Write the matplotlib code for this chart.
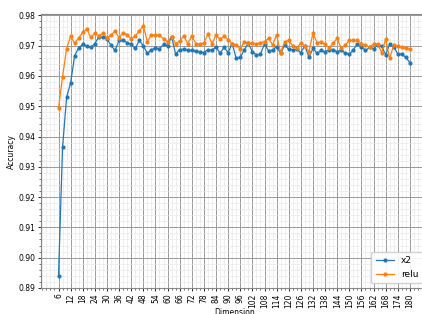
import matplotlib
matplotlib.use('Agg')
import matplotlib.pyplot as plt
from matplotlib.ticker import MultipleLocator

dims = list(range(6, 181, 2))

x2Acc = [0.8940, 0.9364, 0.9529, 0.9577, 0.9667, 0.9693, 0.9704, 0.9699, 0.9694, 0.9707,
         0.9729, 0.9728, 0.9722, 0.9701, 0.9684, 0.9717, 0.9717, 0.9710, 0.9704, 0.9691,
         0.9717, 0.9699, 0.9675, 0.9686, 0.9693, 0.9690, 0.9704, 0.9700, 0.9730, 0.9672,
         0.9687, 0.9688, 0.9685, 0.9684, 0.9683, 0.9680, 0.9677, 0.9687, 0.9685, 0.9696,
         0.9675, 0.9694, 0.9677, 0.9707, 0.9658, 0.9661, 0.9686, 0.9708, 0.9680, 0.9669,
         0.9672, 0.9706, 0.9682, 0.9686, 0.9697, 0.9675, 0.9702, 0.9688, 0.9686, 0.9688,
         0.9677, 0.9700, 0.9661, 0.9691, 0.9675, 0.9684, 0.9680, 0.9686, 0.9686, 0.9680,
         0.9686, 0.9675, 0.9672, 0.9686, 0.9706, 0.9697, 0.9684, 0.9694, 0.9690, 0.9702,
         0.9698, 0.9670, 0.9706, 0.9695, 0.9673, 0.9672, 0.9661, 0.9644]

reluAcc = [0.9493, 0.9597, 0.9690, 0.9731, 0.9708, 0.9725, 0.9744, 0.9755, 0.9727, 0.9741,
           0.9732, 0.9741, 0.9726, 0.9734, 0.9749, 0.9725, 0.9743, 0.9736, 0.9722, 0.9732,
           0.9748, 0.9766, 0.9713, 0.9736, 0.9734, 0.9734, 0.9723, 0.9713, 0.9730, 0.9707,
           0.9715, 0.9732, 0.9707, 0.9732, 0.9707, 0.9705, 0.9709, 0.9738, 0.9707, 0.9734,
           0.9721, 0.9731, 0.9719, 0.9707, 0.9702, 0.9689, 0.9713, 0.9708, 0.9708, 0.9706,
           0.9710, 0.9713, 0.9724, 0.9702, 0.9735, 0.9677, 0.9713, 0.9717, 0.9699, 0.9693,
           0.9708, 0.9699, 0.9680, 0.9741, 0.9710, 0.9713, 0.9704, 0.9693, 0.9708, 0.9724,
           0.9691, 0.9702, 0.9717, 0.9717, 0.9717, 0.9706, 0.9702, 0.9694, 0.9706, 0.9706,
           0.9677, 0.9721, 0.9658, 0.9702, 0.9699, 0.9694, 0.9691, 0.9690]

xticks = list(range(6, 181, 6))
yticks = [0.89, 0.90, 0.91, 0.92, 0.93, 0.94, 0.95, 0.96, 0.97, 0.98]

fig = plt.figure(figsize=(4.22, 3.14), dpi=100)
# axes run a little past the right edge, like the cropped original
ax = fig.add_axes([0.097, 0.083, 0.916, 0.871])

ax.plot(dims, x2Acc, '.-', color='#1f77b4', lw=0.9, ms=4, label='x2')
ax.plot(dims, reluAcc, '.-', color='#ff7f0e', lw=0.9, ms=4, label='relu')

ax.set_ylim(0.89, 0.9803)
ax.set_xlim(-2.7, 188.7)
ax.set_xticks(xticks)
ax.set_yticks(yticks)
ax.set_yticklabels(['%.2f' % v for v in yticks])
ax.xaxis.set_minor_locator(MultipleLocator(2))
ax.yaxis.set_minor_locator(MultipleLocator(0.002))
ax.tick_params(axis='x', labelrotation=90)
ax.tick_params(labelsize=5.5, length=2.5, width=0.6, pad=1.5)
ax.tick_params(which='minor', length=1.5, width=0.4)

ax.grid(which='major', color='#999999', lw=0.7)
ax.grid(which='minor', color='#e4e4e4', lw=0.4)
ax.set_axisbelow(True)

ax.set_xlabel('Dimension', fontsize=5.5, labelpad=0)
ax.set_ylabel('Accuracy', fontsize=5.5, labelpad=2)
for s in ax.spines.values():
    s.set_color('#888888')
    s.set_linewidth(0.8)

ax.legend(loc='lower right', fontsize=6.5, framealpha=0.9, borderpad=0.5)

fig.savefig('out.png', dpi=100)
